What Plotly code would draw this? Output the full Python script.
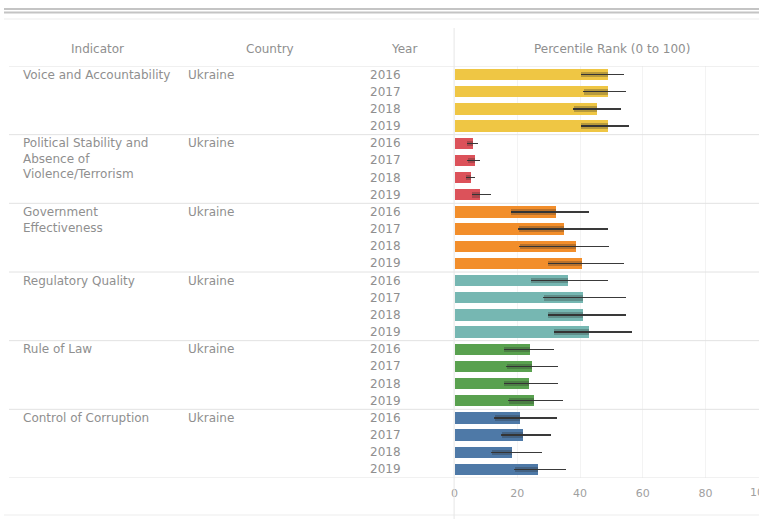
import plotly.graph_objects as go

indicators = ["Voice and Accountability", "Political Stability and<br>Absence of<br>Violence/Terrorism",
              "Government<br>Effectiveness", "Regulatory Quality", "Rule of Law", "Control of Corruption"]
country = "Ukraine"
years = ["2016", "2017", "2018", "2019"]
colors = ["#EFC644", "#DC525A", "#F28E2B", "#76B7B2", "#59A14F", "#4E79A7"]

values = [
    [48.8, 48.8, 45.3, 48.8],
    [5.7, 6.3, 5.0, 7.9],
    [32.2, 34.8, 38.5, 40.4],
    [35.9, 40.9, 40.9, 42.8],
    [23.8, 24.5, 23.6, 25.2],
    [20.7, 21.6, 18.3, 26.4],
]
lower = [
    [40.3, 41.0, 37.9, 40.3],
    [3.8, 4.0, 3.6, 5.4],
    [18.0, 20.3, 20.6, 29.8],
    [24.4, 28.3, 29.8, 31.7],
    [15.6, 16.5, 15.6, 17.1],
    [12.7, 14.9, 11.7, 19.0],
]
upper = [
    [54.0, 54.6, 53.0, 55.5],
    [7.5, 8.0, 6.5, 11.7],
    [43.0, 48.9, 49.3, 54.0],
    [48.9, 54.6, 54.6, 56.5],
    [31.7, 33.0, 33.0, 34.6],
    [32.7, 30.8, 27.9, 35.5],
]
tick_vals = [0, 20, 40, 60, 80, 100]

W, H = 759, 519
x_dom = [453 / W, 1.0]
x_rng = [0, 97.1]
y_dom = [1 - 478 / H, 1 - 66 / H]
nrows = len(indicators) * len(years)

txt = "#8f8f8f"
FONT = "DejaVu Sans"
FS = 12

fig = go.Figure()
for g, name in enumerate(indicators):
    rows = [g * len(years) + j for j in range(len(years))]
    vals = values[g]
    fig.add_trace(go.Bar(
        y=rows, x=vals, orientation="h", marker=dict(color=colors[g], line=dict(width=0)),
        width=0.66, showlegend=False,
        error_x=dict(type="data", symmetric=False,
                     array=[u - v for u, v in zip(upper[g], vals)],
                     arrayminus=[v - l for v, l in zip(vals, lower[g])],
                     color="#3a3a3a", thickness=1.4, width=0),
    ))
    fig.add_trace(go.Bar(
        y=rows, x=[v - l for v, l in zip(vals, lower[g])], base=lower[g], orientation="h",
        marker=dict(color="rgba(40,40,40,0.28)", line=dict(width=0)),
        width=0.32, showlegend=False,
    ))

annotations = []
for g, name in enumerate(indicators):
    r0 = g * len(years)
    annotations.append(dict(xref="paper", yref="y", x=17 / W, y=r0, text=name, xanchor="left",
                            yanchor="top", yshift=9, align="left", showarrow=False,
                            font=dict(family=FONT, size=FS, color=txt)))
    annotations.append(dict(xref="paper", yref="y", x=183 / W, y=r0, text=country, xanchor="left",
                            yanchor="middle", showarrow=False, font=dict(family=FONT, size=FS, color=txt)))
    for j, yr in enumerate(years):
        annotations.append(dict(xref="paper", yref="y", x=366 / W, y=r0 + j, text=yr, xanchor="left",
                                yanchor="middle", showarrow=False, font=dict(family=FONT, size=FS, color=txt)))

for label, xc in [("Indicator", 94), ("Country", 267), ("Year", 402), ("Percentile Rank (0 to 100)", 611)]:
    annotations.append(dict(xref="paper", yref="paper", x=xc / W, y=1 - 49 / H, text=label,
                            xanchor="center", yanchor="middle", showarrow=False,
                            font=dict(family=FONT, size=FS, color=txt)))

# clipped "100" tick label past the right edge
frac = (tick_vals[-1] - x_rng[0]) / (x_rng[1] - x_rng[0])
annotations.append(dict(xref="paper", yref="paper", x=x_dom[0] + frac * (x_dom[1] - x_dom[0]),
                        y=1 - 492 / H, text=str(tick_vals[-1]), xanchor="center", yanchor="middle",
                        xshift=-8, showarrow=False, font=dict(family=FONT, size=11, color="#a0a0a0")))

shapes = []
for yy, col, w in [(9, "#c4c4c4", 2), (12.5, "#c4c4c4", 2), (19, "#ededed", 1), (515, "#ededed", 1)]:
    shapes.append(dict(type="line", xref="paper", yref="paper", x0=0, x1=1, y0=1 - yy / H, y1=1 - yy / H,
                       line=dict(color=col, width=w)))
for k in range(len(indicators) + 1):
    yb = k * len(years) - 0.5
    shapes.append(dict(type="line", xref="paper", yref="y", x0=5 / W, x1=1, y0=yb, y1=yb,
                       line=dict(color="#e2e2e2", width=1)))
shapes.append(dict(type="line", xref="paper", yref="paper", x0=x_dom[0] - 0.5 / W, x1=x_dom[0] - 0.5 / W,
                   y0=0, y1=1 - 28 / H, line=dict(color="#e6e6e6", width=1)))

fig.update_layout(
    width=W, height=H, margin=dict(l=0, r=0, t=0, b=0),
    paper_bgcolor="white", plot_bgcolor="white", barmode="overlay", bargap=0,
    annotations=annotations, shapes=shapes,
    xaxis=dict(domain=x_dom, range=x_rng, tickvals=tick_vals[:-1], showgrid=True, gridcolor="#f3f3f3",
               zeroline=False, showline=False, ticks="", ticklabelstandoff=7,
               tickfont=dict(family=FONT, size=11, color="#a0a0a0"), fixedrange=True),
    yaxis=dict(domain=y_dom, range=[nrows - 0.5, -0.5], showticklabels=False, showgrid=False,
               zeroline=False, fixedrange=True),
)

fig.write_html("out.html", config={"displayModeBar": False},
               post_script="document.body.style.margin='0px';document.body.style.overflow='hidden';")
